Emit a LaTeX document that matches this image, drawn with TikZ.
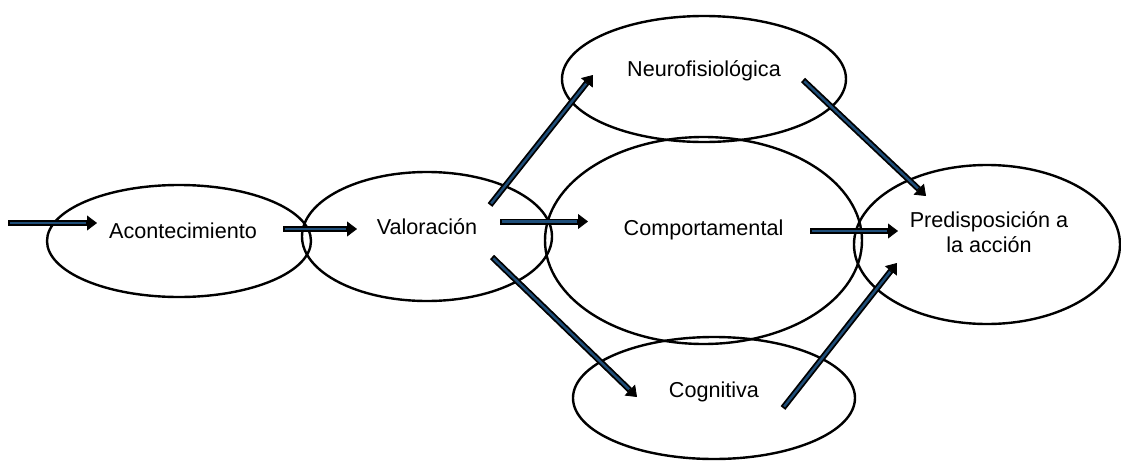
\documentclass[tikz,border=0pt]{standalone}
\usepackage{fontspec}
\setmainfont{Liberation Sans}
\usetikzlibrary{
    arrows.meta,
    %positioning,
    shapes,
}
\definecolor{azulflecha}{HTML}{1F4E79}

\begin{document}
\begin{tikzpicture}[
        x=0.5pt, y=-0.5pt,
        estado/.style={ellipse, draw=black, line width=1.2pt, inner sep=0pt},
        texto/.style={font=\fontsize{10.8}{12.5}\selectfont, align=center},
        flecha/.style={draw=black, line width=3pt, -{Triangle[length=5pt, width=7.5pt, line width=0.4pt]},
            postaction={draw=azulflecha, line width=1.2pt, arrows=-, shorten >=5.5pt, shorten <=0.9pt}},
        ]
        \useasboundingbox (0,0) rectangle (1121,461);
        \node[estado, minimum width=132pt, minimum height=56pt,
            label={[texto, xshift=2pt, yshift=5pt]center:Acontecimiento}] (ACON) at (179,241) {};
        \node[estado, minimum width=125pt, minimum height=64.5pt,
            label={[texto, yshift=5pt]center:Valoración}] (VAL) at (427,236.5) {};
        \node[estado, minimum width=142pt, minimum height=63pt,
            label={[texto, yshift=4pt]center:Neurofisiológica}] (NEURO) at (704,79) {};
        \node[estado, minimum width=158.5pt, minimum height=103.5pt,
            label={[texto, yshift=5.5pt]center:Comportamental}] (COMP) at (703.5,240.5) {};
        \node[estado, minimum width=141pt, minimum height=61pt,
            label={[texto, yshift=3pt]center:Cognitiva}] (COGN) at (714,398) {};
        \node[estado, minimum width=133pt, minimum height=79.5pt,
            label={[texto, xshift=1pt, yshift=6pt]center:{Predisposición a\\la acción}}] (PRED) at (987,244.5) {};
        % extremos de las flechas
        \coordinate (IN)      at (8,223);
        \coordinate (ACONin)  at (97,223);
        \coordinate (ACONout) at (283,229);
        \coordinate (VALin)   at (357,229);
        \coordinate (VALn)    at (490,205);
        \coordinate (VALc)    at (500,221.5);
        \coordinate (VALg)    at (492,257);
        \coordinate (NEUROin) at (593,75);
        \coordinate (NEUROout) at (803,80);
        \coordinate (COMPin)  at (588,221.5);
        \coordinate (COMPout) at (810,231);
        \coordinate (COGNin)  at (637,397);
        \coordinate (COGNout) at (783,408);
        \coordinate (PREDn)   at (926,196);
        \coordinate (PREDc)   at (898,231);
        \coordinate (PREDg)   at (897,263);
        \draw[flecha] (IN) -- (ACONin);
        \draw[flecha] (ACONout) -- (VALin);
        \draw[flecha] (VALn) -- (NEUROin);
        \draw[flecha] (VALc) -- (COMPin);
        \draw[flecha] (VALg) -- (COGNin);
        \draw[flecha] (NEUROout) -- (PREDn);
        \draw[flecha] (COMPout) -- (PREDc);
        \draw[flecha] (COGNout) -- (PREDg);
    \end{tikzpicture}
\end{document}
